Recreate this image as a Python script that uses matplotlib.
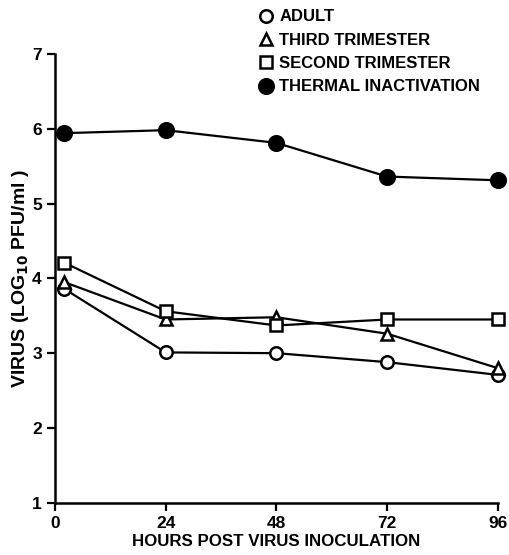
import matplotlib
matplotlib.use("Agg")
import matplotlib.pyplot as plt
from matplotlib.lines import Line2D

# hours post inoculation (first point sits just right of the axis)
hours = [2, 24, 48, 72, 96]

adult = [3.86, 3.01, 3.00, 2.88, 2.71]
third_trimester = [3.95, 3.45, 3.48, 3.26, 2.80]
second_trimester = [4.21, 3.56, 3.37, 3.45, 3.45]
thermal = [5.94, 5.98, 5.81, 5.36, 5.31]

series_names = ["ADULT", "THIRD TRIMESTER", "SECOND TRIMESTER", "THERMAL INACTIVATION"]
x_ticks = [0, 24, 48, 72, 96]
y_ticks = [1, 2, 3, 4, 5, 6, 7]

plt.rcParams['font.family'] = ['Liberation Sans', 'DejaVu Sans']
plt.rcParams['font.weight'] = 'bold'

fig = plt.figure(figsize=(5.09, 5.55), dpi=100)
ax = fig.add_axes([0.108, 0.094, 0.870, 0.809])

styles = [("o", "white", 9), ("^", "white", 9), ("s", "white", 8.5), ("o", "black", 10.5)]
data = [adult, third_trimester, second_trimester, thermal]

for vals, (m, fc, ms) in zip(data, styles):
    ax.plot(hours, vals, color="black", lw=1.6, marker=m, ms=ms,
            mfc=fc, mec="black", mew=1.8, clip_on=False, zorder=3)

ax.set_xlim(0, 96)
ax.set_ylim(1, 7)
ax.set_xticks(x_ticks)
ax.set_yticks(y_ticks)
ax.spines['top'].set_visible(False)
ax.spines['right'].set_visible(False)
ax.spines['left'].set_linewidth(1.8)
ax.spines['bottom'].set_linewidth(1.8)
ax.tick_params(direction='out', length=6, width=1.6, labelsize=12.5)
for lab in ax.get_xticklabels() + ax.get_yticklabels():
    lab.set_fontweight('bold')

ax.set_xlabel("HOURS POST VIRUS INOCULATION", fontsize=12.2, fontweight='bold', labelpad=2)
ax.set_ylabel("VIRUS (LOG$_{\\mathbf{10}}$ PFU/ml )", fontsize=14, fontweight='bold', labelpad=1)

handles = []
for (m, fc, ms), name in zip(styles, series_names):
    handles.append(Line2D([], [], linestyle='none', marker=m, ms=ms, mfc=fc,
                          mec='black', mew=1.8, label=name))
fig.legend(handles=handles, loc='upper left', bbox_to_anchor=(0.49, 0.995),
           frameon=False, fontsize=12, handletextpad=0.2, labelspacing=0.5,
           handlelength=1.2, borderaxespad=0)

fig.savefig("out.png", dpi=100)
